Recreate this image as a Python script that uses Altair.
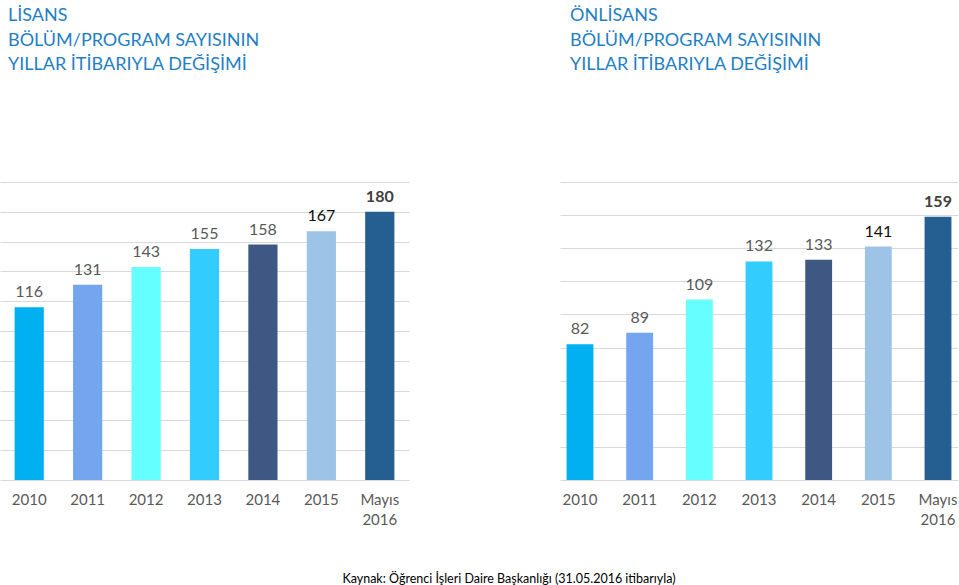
import altair as alt
import pandas as pd

years = ["2010", "2011", "2012", "2013", "2014", "2015", "Mayıs 2016"]
lisans = [116, 131, 143, 155, 158, 167, 180]
onlisans = [82, 89, 109, 132, 133, 141, 159]
bar_colors = ["#00B0F0", "#74A5EF", "#66FFFF", "#33CCFF", "#3F5883", "#9DC3E6", "#255E91"]
grid_lisans = [0, 20, 40, 60, 80, 100, 120, 140, 160, 180, 200]
grid_onlisans = [0, 20, 40, 60, 80, 100, 120, 140, 160, 180]
title_lisans = ["LİSANS", "BÖLÜM/PROGRAM SAYISININ", "YILLAR İTİBARIYLA DEĞİŞİMİ"]
title_onlisans = ["ÖNLİSANS", "BÖLÜM/PROGRAM SAYISININ", "YILLAR İTİBARIYLA DEĞİŞİMİ"]
source = "Kaynak: Öğrenci İşleri Daire Başkanlığı (31.05.2016 itibarıyla)"

FONT = "Lato"


def panel(values, ymax, grid, title, width, pin, pout, title_dx):
    df = pd.DataFrame({"year": years, "value": values})
    base = alt.Chart(df)
    x = alt.X(
        "year:N",
        sort=years,
        scale=alt.Scale(paddingInner=pin, paddingOuter=pout),
        axis=alt.Axis(
            title=None,
            labelAngle=0,
            labelExpr="split(datum.label, ' ')",
            labelFont=FONT,
            labelFontSize=15,
            labelColor="#595959",
            labelPadding=12,
            labelLineHeight=20,
            ticks=False,
            domain=False,
            grid=False,
        ),
    )
    y = alt.Y(
        "value:Q",
        scale=alt.Scale(domain=[0, ymax], nice=False),
        axis=alt.Axis(
            title=None,
            labels=False,
            ticks=False,
            domain=False,
            values=grid,
            gridColor="#D9D9D9",
            gridWidth=1,
        ),
    )
    bars = base.mark_bar().encode(
        x=x,
        y=y,
        color=alt.Color("year:N", scale=alt.Scale(domain=years, range=bar_colors), legend=None),
    )
    labels = base.mark_text(
        font=FONT, fontSize=16, baseline="alphabetic", dy=-10
    ).encode(
        x=x,
        y=y,
        text="value:Q",
        color=alt.when(alt.datum.year == "2015")
        .then(alt.value("#0D0D0D"))
        .otherwise(alt.value("#595959")),
    ).transform_filter(alt.datum.year != "Mayıs 2016")
    bold = base.mark_text(
        font=FONT, fontSize=16, fontWeight="bold", baseline="alphabetic", dy=-10, color="#404040"
    ).encode(
        x=x,
        y=y,
        text="value:Q",
    ).transform_filter(alt.datum.year == "Mayıs 2016")
    return alt.layer(bars, labels, bold).properties(
        width=width,
        height=298,
        title=alt.TitleParams(
            text=title,
            anchor="start",
            font=FONT,
            fontSize=18,
            fontWeight="normal",
            color="#1F7FC4",
            lineHeight=24.5,
            offset=108,
            dx=title_dx,
        ),
    )


left = panel(lisans, 200, grid_lisans, title_lisans, 409, 0.5, 0.25, 8)
right = panel(onlisans, 180, grid_onlisans, title_onlisans, 398, 0.55, 0.11, 10)

chart = (
    alt.hconcat(left, right, spacing=151)
    .properties(
        padding={"left": 0, "right": 0, "top": 7, "bottom": 0},
        title=alt.TitleParams(
            text=source,
            orient="bottom",
            anchor="middle",
            font=FONT,
            fontSize=12.5,
            fontWeight="normal",
            color="#000000",
            offset=46,
            dx=30,
        ),
    )
    .configure_view(stroke=None)
)

chart.save("out.html", embed_options={"renderer": "svg", "actions": False})
